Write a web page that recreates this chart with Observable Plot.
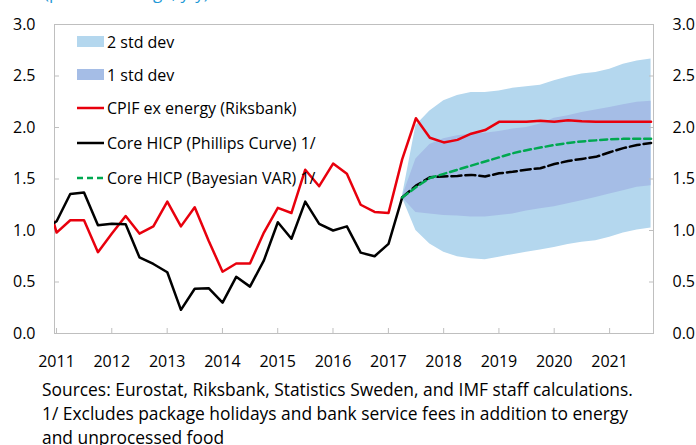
<!DOCTYPE html>
<html>
<head>
<meta charset="utf-8">
<script src="https://cdn.jsdelivr.net/npm/d3@7"></script>
<script src="https://cdn.jsdelivr.net/npm/@observablehq/plot@0.6"></script>
<style>
  html, body { margin: 0; padding: 0; background: #fff; }
  body { width: 696px; height: 445px; overflow: hidden; font-family: "Open Sans", "Noto Sans", sans-serif; color: #000; }
  #wrap { position: relative; width: 696px; }
  #title { position: absolute; left: 44px; top: -16px; font-size: 17px; line-height: 17px; color: #1f9ad6; white-space: nowrap; }
  #legend { position: absolute; left: 77px; top: 0; font-size: 16px; }
  .item { position: absolute; left: 0; display: flex; align-items: center; white-space: nowrap; height: 20px; }
  .sw { width: 27px; margin-right: 3px; }
  #caption { padding: 5px 0 0 42px; font-size: 17.4px; line-height: 24px; white-space: nowrap; }
</style>
</head>
<body>
<div id="wrap">
  <div id="chart"></div>
  <div id="title"></div>
  <div id="legend"></div>
</div>
<div id="caption"></div>
<script>
// ---------- data ----------
const titleText = "(percent change, y/y)";
const firstYear = 2010, firstQuarter = 4; // first observation: 2010Q4 (clipped by axis)
// CPIF ex energy (Riksbank), 2010Q4 .. 2021Q4
const cpifExEnergy = [1.45,
  0.98, 1.10, 1.10, 0.79, 0.97, 1.14, 0.97, 1.04, 1.28, 1.04, 1.225, 0.90,
  0.60, 0.68, 0.68, 0.98, 1.22, 1.17, 1.59, 1.43, 1.65, 1.55, 1.25, 1.18,
  1.17, 1.69, 2.09, 1.90, 1.855, 1.88, 1.94, 1.975, 2.055, 2.055, 2.055, 2.065,
  2.055, 2.07, 2.06, 2.055, 2.055, 2.055, 2.055, 2.055];
// Core HICP actual, 2010Q4 .. 2017Q2
const coreHicpActual = [1.00,
  1.09, 1.355, 1.37, 1.05, 1.065, 1.06, 0.74, 0.675, 0.595, 0.23, 0.435, 0.44,
  0.30, 0.55, 0.455, 0.71, 1.08, 0.92, 1.28, 1.065, 1.00, 1.04, 0.785, 0.75,
  0.87, 1.32];
// Forecasts, 2017Q2 .. 2021Q4
const phillipsForecast = [1.32, 1.435, 1.516, 1.525, 1.53, 1.54, 1.525, 1.555, 1.57, 1.59,
  1.605, 1.645, 1.675, 1.695, 1.715, 1.76, 1.80, 1.83, 1.85];
const bvarForecast = [1.32, 1.42, 1.51, 1.55, 1.59, 1.63, 1.67, 1.71, 1.75, 1.78,
  1.805, 1.83, 1.85, 1.865, 1.875, 1.885, 1.89, 1.89, 1.89];
const sd2Upper = [1.32, 2.02, 2.16, 2.26, 2.31, 2.34, 2.34, 2.355, 2.38, 2.395,
  2.41, 2.455, 2.49, 2.52, 2.535, 2.565, 2.615, 2.645, 2.665];
const sd2Lower = [1.32, 1.00, 0.87, 0.79, 0.745, 0.725, 0.715, 0.74, 0.765, 0.79,
  0.81, 0.835, 0.865, 0.885, 0.90, 0.935, 0.975, 1.005, 1.025];
const sd1Upper = [1.32, 1.695, 1.835, 1.89, 1.92, 1.935, 1.945, 1.96, 1.985, 2.00,
  2.035, 2.09, 2.115, 2.145, 2.17, 2.195, 2.22, 2.245, 2.255];
const sd1Lower = [1.32, 1.175, 1.16, 1.145, 1.14, 1.13, 1.13, 1.145, 1.16, 1.19,
  1.21, 1.23, 1.26, 1.29, 1.32, 1.355, 1.385, 1.42, 1.435];
const forecastStartIndex = 26; // index of 2017Q2 in the full quarter list
const yearTicks = [2011, 2012, 2013, 2014, 2015, 2016, 2017, 2018, 2019, 2020, 2021];
const yTicks = [0, 0.5, 1, 1.5, 2, 2.5, 3];
const legendItems = [
  {label: "2 std dev", kind: "area", color: "#b4d7ee"},
  {label: "1 std dev", kind: "area", color: "#a5bde6"},
  {label: "CPIF ex energy (Riksbank)", kind: "line", color: "#e8000d"},
  {label: "Core HICP (Phillips Curve) 1/", kind: "line", color: "#000000"},
  {label: "Core HICP (Bayesian VAR) 1/", kind: "dash", color: "#00a850"}
];
const captionLines = [
  "Sources: Eurostat, Riksbank, Statistics Sweden, and IMF staff calculations.",
  "1/ Excludes package holidays and bank service fees in addition to energy",
  "and unprocessed food"
];

// ---------- build ----------
function qDate(i) {
  const q0 = firstYear * 4 + (firstQuarter - 1) + i;
  const y = Math.floor(q0 / 4), q = q0 % 4;
  return new Date(Date.UTC(y, q * 3, 15));
}
const cpifRows = cpifExEnergy.map((v, i) => ({date: qDate(i), v}));
const actualRows = coreHicpActual.map((v, i) => ({date: qDate(i), v}));
const fcRows = phillipsForecast.map((v, j) => ({
  date: qDate(forecastStartIndex + j), pc: v, bvar: bvarForecast[j],
  u2: sd2Upper[j], l2: sd2Lower[j], u1: sd1Upper[j], l1: sd1Lower[j]
}));
const yearDates = yearTicks.map(y => new Date(Date.UTC(y, 0, 1)));

const font = "'Open Sans', 'Noto Sans', sans-serif";
const axisGray = "#bfbfbf";

const chart = Plot.plot({
  width: 696,
  height: 372,
  marginLeft: 54,
  marginRight: 43,
  marginTop: 24,
  marginBottom: 39,
  style: {fontFamily: font, fontSize: "16px", color: "#000", background: "#fff"},
  x: {type: "utc", domain: [new Date(Date.UTC(2011, 0, 1)), new Date(Date.UTC(2021, 9, 31))]},
  y: {domain: [0, 3]},
  marks: [
    Plot.areaY(fcRows, {x: "date", y1: "l2", y2: "u2", fill: "#b4d7ee"}),
    Plot.areaY(fcRows, {x: "date", y1: "l1", y2: "u1", fill: "#a5bde6"}),
    Plot.frame({stroke: axisGray}),
    Plot.axisY({anchor: "left", ticks: yTicks, tickFormat: d3.format(".1f"), tickSize: -5, tickPadding: 24, label: null, stroke: axisGray, fill: "#000"}),
    Plot.axisY({anchor: "right", ticks: yTicks, tickFormat: d3.format(".1f"), tickSize: -5, tickPadding: 24, label: null, stroke: axisGray, fill: "#000"}),
    Plot.axisX({anchor: "bottom", ticks: yearDates, tickFormat: d3.utcFormat("%Y"), tickSize: -5, tickPadding: 27, dx: 2, label: null, stroke: axisGray, fill: "#000"}),
    Plot.lineY(cpifRows, {x: "date", y: "v", stroke: "#e8000d", strokeWidth: 2.5, clip: true}),
    Plot.lineY(actualRows, {x: "date", y: "v", stroke: "#000", strokeWidth: 2.5, clip: true}),
    Plot.lineY(fcRows, {x: "date", y: "pc", stroke: "#000", strokeWidth: 2.5, strokeDasharray: "10,4"}),
    Plot.lineY(fcRows, {x: "date", y: "bvar", stroke: "#00a850", strokeWidth: 2.5, strokeDasharray: "7,4"})
  ]
});
document.getElementById("chart").appendChild(chart);

document.getElementById("title").textContent = titleText;

const legendTops = [32, 65, 98, 133, 168];
const legend = document.getElementById("legend");
legendItems.forEach((it, k) => {
  const row = document.createElement("div");
  row.className = "item";
  row.style.top = legendTops[k] + "px";
  const sw = document.createElementNS("http://www.w3.org/2000/svg", "svg");
  sw.setAttribute("class", "sw");
  sw.setAttribute("width", 27);
  sw.setAttribute("height", 14);
  if (it.kind === "area") {
    const r = document.createElementNS(sw.namespaceURI, "rect");
    r.setAttribute("x", 0); r.setAttribute("y", 1); r.setAttribute("width", 27); r.setAttribute("height", 11);
    r.setAttribute("fill", it.color);
    sw.appendChild(r);
  } else {
    const l = document.createElementNS(sw.namespaceURI, "line");
    l.setAttribute("x1", 0); l.setAttribute("x2", 27); l.setAttribute("y1", 7); l.setAttribute("y2", 7);
    l.setAttribute("stroke", it.color); l.setAttribute("stroke-width", 2.5);
    if (it.kind === "dash") l.setAttribute("stroke-dasharray", "6,4");
    sw.appendChild(l);
  }
  row.appendChild(sw);
  const t = document.createElement("span");
  t.textContent = it.label;
  row.appendChild(t);
  legend.appendChild(row);
});

document.getElementById("caption").innerHTML = captionLines.map(s => `<div>${s}</div>`).join("");
</script>
</body>
</html>
